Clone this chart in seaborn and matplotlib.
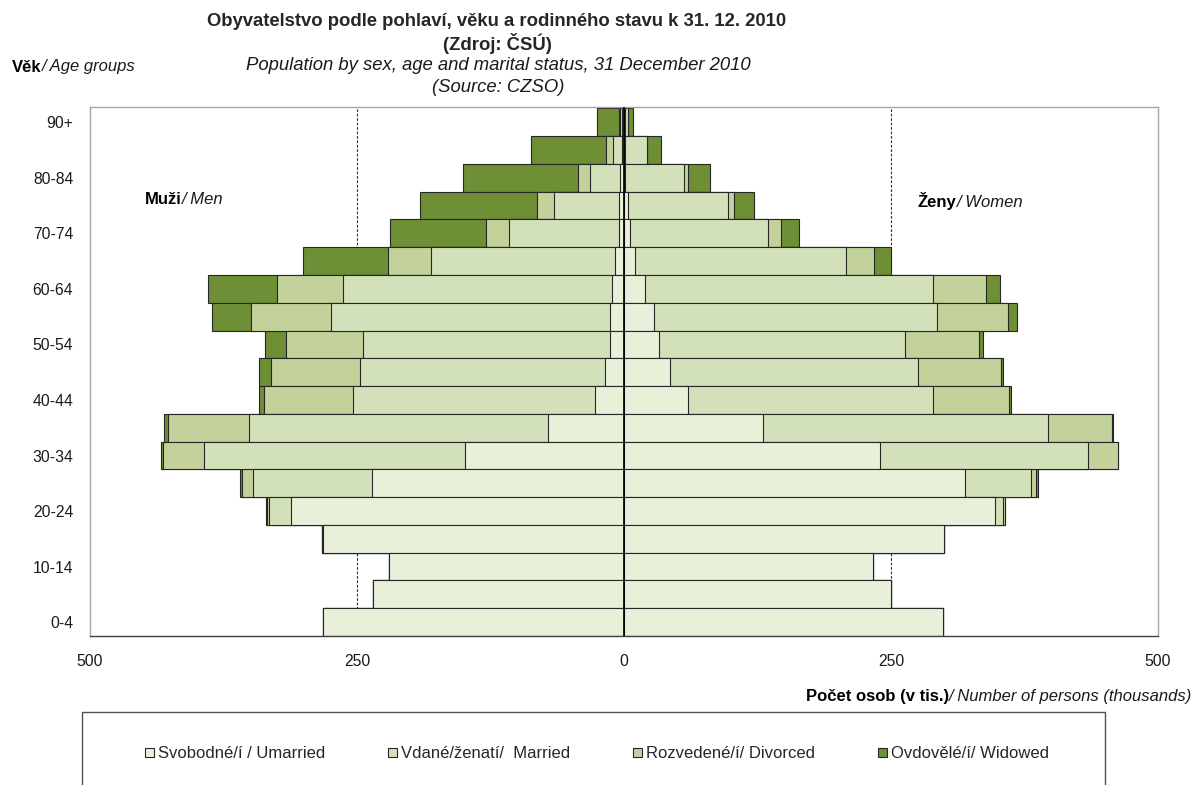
import numpy as np
import pandas as pd
import matplotlib
matplotlib.use("Agg")
import matplotlib.pyplot as plt
import seaborn as sns
from matplotlib.patches import Patch, Rectangle

# age groups, bottom to top
ages = ["0-4", "5-9", "10-14", "15-19", "20-24", "25-29", "30-34", "35-39", "40-44",
        "45-49", "50-54", "55-59", "60-64", "65-69", "70-74", "75-79", "80-84", "85-89", "90+"]

# thousands of persons, left side (Muzi / Men)
men_unmarried = [282.3, 234.7, 220.3, 281.7, 311.7, 235.7, 148.7, 71.3, 27.3,
                 17.7, 13.0, 13.0, 11.0, 8.3, 5.0, 5.0, 3.3, 2.3, 1.7]
men_married = [0, 0, 0, 1.0, 21.0, 112.0, 244.3, 280.0, 226.0,
               229.7, 231.0, 261.0, 252.3, 172.7, 102.3, 60.7, 29.0, 8.4, 2.0]
men_divorced = [0, 0, 0, 0, 2.0, 10.0, 38.7, 76.0, 83.7,
                83.3, 72.7, 75.0, 61.7, 39.7, 21.7, 15.3, 11.0, 6.0, 0.6]
men_widowed = [0, 0, 0, 0, 0.3, 2.0, 2.0, 3.7, 4.7,
               11.0, 19.0, 36.7, 64.3, 80.3, 90.0, 109.7, 107.7, 70.0, 20.7]

# right side (Zeny / Women)
women_unmarried = [298.3, 250.2, 233.4, 300.0, 347.8, 319.0, 239.5, 130.4, 60.2,
                   43.5, 32.8, 28.0, 19.7, 10.0, 5.7, 4.0, 1.3, 0.7, 1.0]
women_married = [0, 0, 0, 0, 7.4, 62.2, 194.6, 266.6, 229.1,
                 231.8, 230.4, 265.0, 269.6, 198.0, 129.4, 93.0, 54.5, 21.0, 2.5]
women_divorced = [0, 0, 0, 0, 1.2, 4.7, 28.1, 59.5, 71.6,
                  77.3, 69.2, 66.5, 49.2, 26.0, 12.0, 6.0, 4.3, 0.3, 0.5]
women_widowed = [0, 0, 0, 0, 0.8, 1.3, 0.7, 1.3, 1.7,
                 2.7, 3.3, 8.4, 14.0, 16.0, 16.7, 19.0, 20.0, 13.0, 4.4]

status_labels = ["Svobodné/í / Umarried", "Vdané/ženatí/  Married",
                 "Rozvedené/í/ Divorced", "Ovdovělé/í/ Widowed"]
colors = ["#E8F0DA", "#D3E1BB", "#C3D29A", "#6F8F37"]

sns.set_style("white")
plt.rcParams["font.family"] = ["Liberation Sans", "DejaVu Sans"]

W, H = 1194, 785
fig = plt.figure(figsize=(W / 100, H / 100), dpi=100)
ax = fig.add_axes([90 / W, 1 - 636 / H, (1158 - 90) / W, (636 - 107) / H])

order = ages[::-1]


def draw_side(parts, sign):
    # stacked look: draw cumulative sums from the outermost layer inwards
    parts = [np.array(p, dtype=float) for p in parts]
    cums = np.cumsum(parts, axis=0)
    for i in range(3, -1, -1):
        df = pd.DataFrame({"age": ages, "value": sign * cums[i]})
        sns.barplot(data=df, x="value", y="age", order=order, orient="h",
                    color=colors[i], saturation=1, width=1.0, errorbar=None,
                    edgecolor="#262626", linewidth=0.8, ax=ax, zorder=2)


draw_side([men_unmarried, men_married, men_divorced, men_widowed], -1)
draw_side([women_unmarried, women_married, women_divorced, women_widowed], 1)

for v in (-250, 250):
    ax.axvline(v, color="#333333", lw=0.8, ls=(0, (2.5, 1.5)), zorder=0.5)
ax.axvline(0, color="black", lw=1.2, zorder=5)

ax.set_xlim(-500, 500)
ax.set_ylim(18.5, -0.55)
ax.set_xticks([-500, -250, 0, 250, 500])
ax.set_xticklabels(["500", "250", "0", "250", "500"], fontsize=11.3, color="#1a1a1a")
ax.set_yticks(range(0, 19, 2))
ax.set_yticklabels(order[::2], fontsize=11.3, color="#1a1a1a")
ax.set_xlabel("")
ax.set_ylabel("")
ax.tick_params(axis="x", length=4, width=1, color="#404040", direction="out", pad=9)
ax.tick_params(axis="y", length=0, pad=12)
for side in ("left", "top", "right"):
    ax.spines[side].set_color("#A6A6A6")
    ax.spines[side].set_linewidth(1)
ax.spines["bottom"].set_color("#404040")
ax.spines["bottom"].set_linewidth(1)


def fx(x):
    return x / W


def fy(y):
    return 1 - y / H


def two_part(x, y, bold, italic, size, right=False, color="#1a1a1a"):
    if not right:
        t = fig.text(fx(x), fy(y), bold, fontsize=size, fontweight="bold",
                     ha="left", va="center", color="black")
        ax.annotate(italic, xy=(1, 0), xycoords=t, ha="left", va="bottom",
                    fontsize=size, style="italic", color=color)
    else:
        t = fig.text(fx(x), fy(y), italic, fontsize=size, style="italic",
                     ha="right", va="center", color=color)
        ax.annotate(bold, xy=(0, 0), xycoords=t, ha="right", va="bottom",
                    fontsize=size, fontweight="bold", color="black")


# titles
fig.text(fx(497), fy(22), "Obyvatelstvo podle pohlaví, věku a rodinného stavu k 31. 12. 2010",
         ha="center", va="center", fontsize=13.3, fontweight="bold")
fig.text(fx(497), fy(44), "(Zdroj: ČSÚ)", ha="center", va="center",
         fontsize=13.3, fontweight="bold")
fig.text(fx(498), fy(65), "Population by sex, age and marital status, 31 December 2010",
         ha="center", va="center", fontsize=13.3, style="italic", color="#1a1a1a")
fig.text(fx(498), fy(87), "(Source: CZSO)", ha="center", va="center",
         fontsize=13.3, style="italic", color="#1a1a1a")

two_part(12, 67, "Věk", "/ Age groups", 12)
two_part(145, 199, "Muži", "/ Men", 12)
two_part(918, 201, "Ženy", "/ Women", 12)
two_part(1192, 697, "Počet osob (v tis.)", "/ Number of persons (thousands)", 12, right=True)

# legend box
fig.add_artist(Rectangle((fx(82), -0.05), (1105 - 82) / W, fy(712) + 0.05,
                         transform=fig.transFigure, fill=False,
                         edgecolor="#505050", lw=1))
handles = [Patch(facecolor=c, edgecolor="#262626", lw=0.8) for c in colors]
fig.legend(handles, status_labels, loc="center", bbox_to_anchor=(fx(597), fy(754)),
           ncol=4, frameon=False, fontsize=12, handlelength=0.5, handleheight=0.5,
           handletextpad=0.25, columnspacing=3.8)

fig.savefig("out.png", dpi=100)
